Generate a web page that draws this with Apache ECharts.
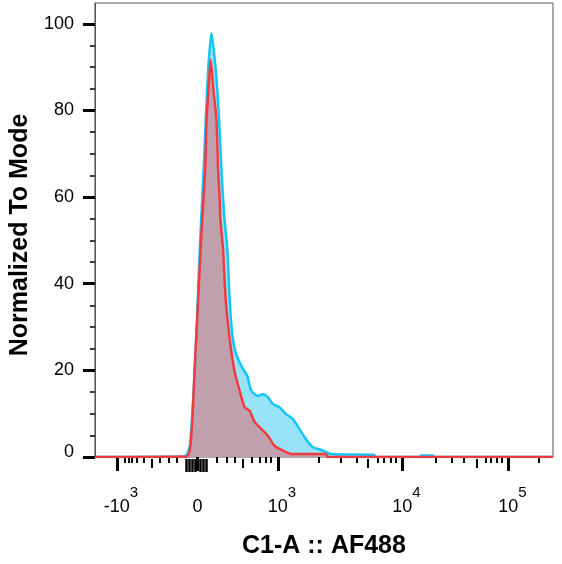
<!DOCTYPE html>
<html>
<head>
<meta charset="utf-8">
<script src="https://cdn.jsdelivr.net/npm/echarts@6/dist/echarts.min.js"></script>
<style>
html,body{margin:0;padding:0;background:#fff;}
#chart{width:562px;height:564px;}
</style>
</head>
<body>
<div id="chart"></div>
<script>
// Histogram on the biexponential display scale (channel units 0..1000)
var blueX = [0, 195.7, 207.2, 214.6, 221.7, 228.9, 234.1, 237.3, 242.0, 247.2, 254.3, 263.7, 271.1, 276.1, 282.0, 289.1, 294.1, 299.3, 305.0, 312.4, 323.3, 332.6, 341.3, 355.9, 366.7, 377.6, 388.5, 402.8, 417.4, 432.0, 446.3, 460.9, 475.4, 497.2, 515.2, 608.7, 613.0, 708.7, 713.0, 737.0, 741.3, 1000];
var blueY = [0, 0.1, 2.6, 13.4, 28.8, 47.9, 59.4, 66.4, 77.9, 89.4, 97.9, 89.4, 77.9, 66.4, 56.0, 47.9, 36.4, 28.8, 24.9, 22.6, 20.3, 18.7, 15.3, 14.1, 14.5, 13.8, 12.2, 11.5, 9.9, 8.8, 6.5, 4.1, 2.3, 1.5, 0.7, 0.5, 0, 0, 0.35, 0.35, 0, 0];
var redX = [0, 200.0, 210.9, 218.0, 225.4, 232.6, 240.7, 243.7, 247.8, 252.8, 258.7, 265.2, 268.9, 272.4, 273.9, 279.8, 285.4, 294.1, 305.0, 315.9, 326.7, 337.6, 348.5, 363.0, 377.6, 392.0, 410.2, 428.3, 504.3, 508.7, 1000];
var redY = [0, 0.1, 5.8, 21.0, 36.4, 51.8, 66.4, 77.9, 84.8, 91.7, 84.8, 77.9, 66.4, 59.4, 54.8, 47.9, 36.4, 27.2, 19.6, 15.3, 11.5, 10.7, 8.1, 6.5, 4.9, 2.6, 1.5, 0.7, 0.7, 0, 0];

// x axis ticks (channel positions) and labels
var xMajorTicks = [47.8, 223.9, 399.3, 671.1, 902.2];
var xMajorLabels = ['-10|3', '0', '10|3', '10|4', '10|5'];
var xMinorTicks = [65.9, 73.3, 80.4, 91.3, 105.9, 142.0, 160.2, 178.3,
  265.2, 287.0, 305.0, 341.3, 359.3, 373.9, 384.8,
  489.1, 537.0, 571.7, 616.7, 631.1, 645.7, 656.5,
  743.5, 779.8, 805.0, 852.2, 864.6, 877.6, 888.5, 968.0];
var xMidTicks = [123.9, 323.3, 595.0, 832.6];
var xZeroTicks = [199.0, 205.5, 212.0, 218.5, 230.0, 236.5, 243.5];

// y axis ticks
var yMajorTicks = [0, 20, 40, 60, 80, 100];
var yMinorTicks = [5, 10, 15, 25, 30, 35, 45, 50, 55, 65, 70, 75, 85, 90, 95];

var xTitle = 'C1-A :: AF488';
var yTitle = 'Normalized To Mode';

function pairs(xs, ys) { return xs.map(function (x, i) { return [x, ys[i]]; }); }

var FONT = 'Liberation Sans, Arial, sans-serif';
var XMIN = 0, XMAX = 1000, YMIN = 0, YMAX = 104.8;

function tickAxis(values, len, width) {
  return {
    type: 'value', gridIndex: 0, position: 'bottom', offset: 2,
    min: XMIN, max: XMAX,
    axisLine: { show: false },
    splitLine: { show: false },
    axisTick: { show: true, inside: false, length: len, customValues: values,
      lineStyle: { color: '#000', width: width } },
    axisLabel: { show: false }
  };
}

var labelMap = {};
xMajorTicks.forEach(function (v, i) { labelMap[v] = xMajorLabels[i]; });

var xMain = tickAxis(xMajorTicks, 14, 3);
xMain.axisLabel = {
  show: true, customValues: xMajorTicks, margin: 26,
  fontFamily: FONT, color: '#000',
  formatter: function (v) {
    var key = Object.keys(labelMap).filter(function (k) { return Math.abs(+k - v) < 0.01; })[0];
    var t = labelMap[key] || '';
    var parts = t.split('|');
    if (parts.length === 1) return '{b|' + parts[0] + '}';
    return '{h|' + parts[1] + '}{b|' + parts[0] + '}{s|' + parts[1] + '}';
  },
  rich: {
    b: { fontSize: 18, fontFamily: FONT, color: '#000', lineHeight: 31, verticalAlign: 'bottom' },
    s: { fontSize: 15, fontFamily: FONT, color: '#000', lineHeight: 31, verticalAlign: 'top' },
    h: { fontSize: 15, fontFamily: FONT, color: 'rgba(0,0,0,0)', lineHeight: 31, verticalAlign: 'top' }
  }
};
xMain.name = xTitle;
xMain.nameLocation = 'middle';
xMain.nameGap = 75;
xMain.nameTextStyle = { fontFamily: FONT, fontSize: 25, fontWeight: 'bold', color: '#000' };

var option = {
  animation: false,
  backgroundColor: '#fff',
  grid: { left: 93, right: 9, top: 3, bottom: 106, show: true, borderColor: '#555', borderWidth: 1, backgroundColor: 'transparent' },
  xAxis: [
    xMain,
    tickAxis(xMinorTicks, 6, 2),
    tickAxis(xMidTicks, 9, 2),
    tickAxis(xZeroTicks, 13, 2.5)
  ],
  yAxis: [
    {
      type: 'value', min: YMIN, max: YMAX,
      axisLine: { show: true, lineStyle: { color: '#555', width: 1 } },
      splitLine: { show: false },
      axisTick: { show: true, length: 12, customValues: yMajorTicks, lineStyle: { color: '#000', width: 3 } },
      axisLabel: {
        show: true, customValues: yMajorTicks, margin: 21, fontFamily: FONT, fontSize: 18, color: '#000',
        formatter: function (v) { return v === 0 ? '{z|0}' : String(v); },
        rich: { z: { fontSize: 18, fontFamily: FONT, color: '#000', padding: [0, 0, 10, 0] } }
      },
      name: yTitle, nameLocation: 'middle', nameGap: 59,
      nameTextStyle: { fontFamily: FONT, fontSize: 25, fontWeight: 'bold', color: '#000', padding: [0, 10, 0, 0] }
    },
    {
      type: 'value', min: YMIN, max: YMAX, position: 'left',
      axisLine: { show: false }, splitLine: { show: false },
      axisTick: { show: true, length: 5, customValues: yMinorTicks, lineStyle: { color: '#000', width: 1.5 } },
      axisLabel: { show: false }
    }
  ],
  series: [
    {
      type: 'line', xAxisIndex: 0, yAxisIndex: 0, data: pairs(blueX, blueY),
      showSymbol: false, smooth: 0.2,
      lineStyle: { color: '#12c6f6', width: 2.5 },
      areaStyle: { color: '#98e3f7', opacity: 1 }
    },
    {
      type: 'line', xAxisIndex: 0, yAxisIndex: 0, data: pairs(redX, redY),
      showSymbol: false, smooth: 0.2,
      lineStyle: { color: '#f43a3f', width: 2.5 },
      areaStyle: { color: '#c0a0ac', opacity: 1 }
    }
  ]
};

var chart = echarts.init(document.getElementById('chart'), null, { renderer: 'canvas' });
chart.setOption(option);
</script>
</body>
</html>
